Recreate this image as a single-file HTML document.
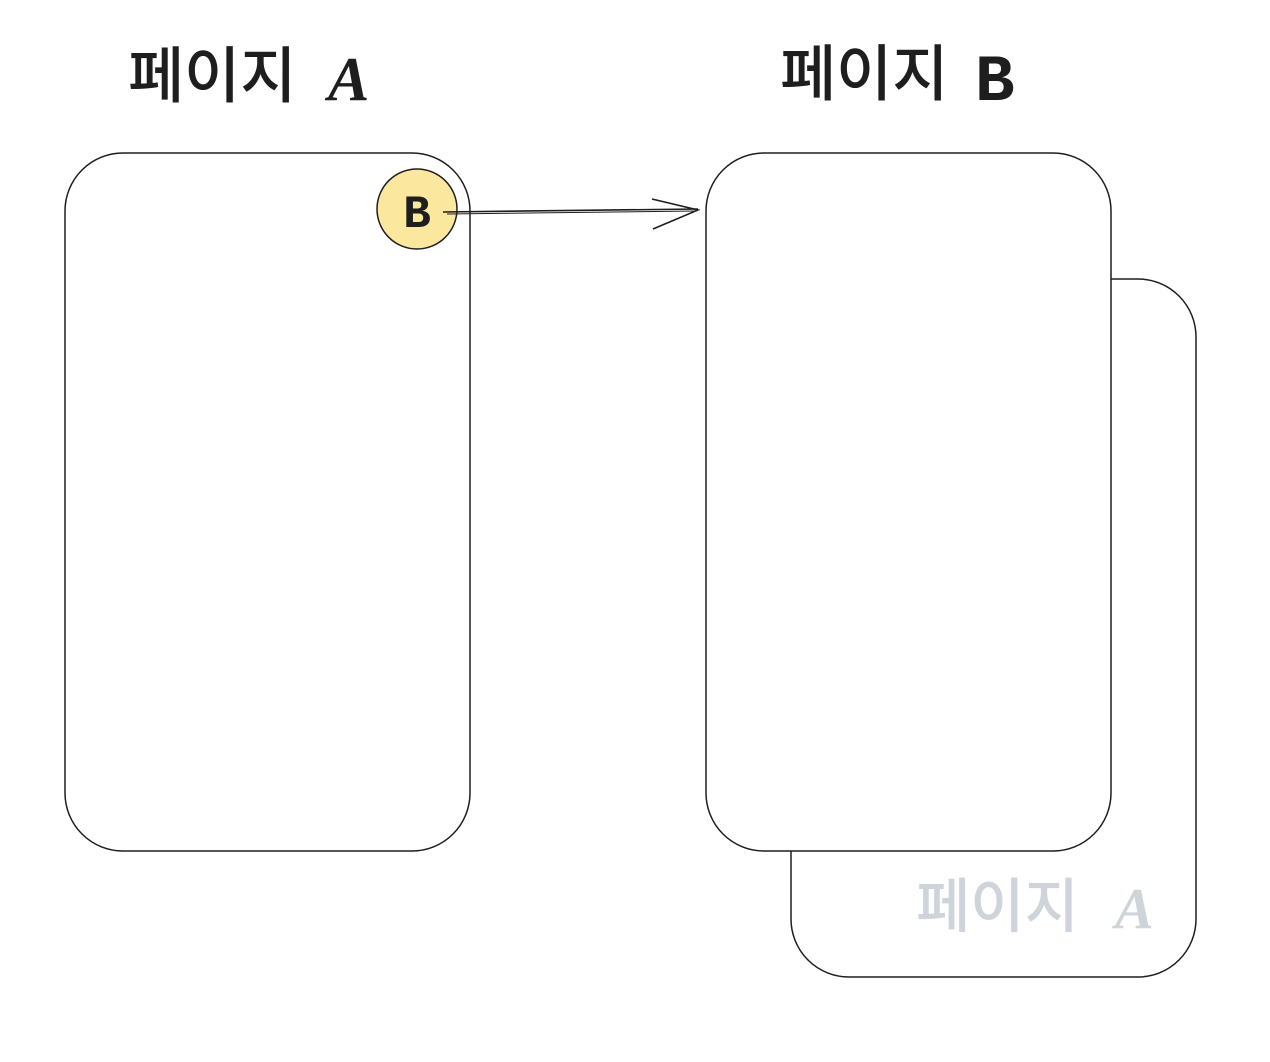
<!DOCTYPE html>
<html><head><meta charset="utf-8"><style>
html,body{margin:0;padding:0;background:#fff;}
svg{display:block}
</style></head><body>
<svg width="1270" height="1062" viewBox="0 0 1270 1062" xmlns="http://www.w3.org/2000/svg">
<rect x="0" y="0" width="1270" height="1062" fill="#fff"/>
<rect x="791" y="279" width="405" height="698" rx="58" fill="#fff" stroke="#1e1e1e" stroke-width="1.5"/>
<rect x="706" y="153" width="405" height="698" rx="58" fill="#fff" stroke="#1e1e1e" stroke-width="1.5"/>
<rect x="65" y="153" width="405" height="698" rx="58" fill="#fff" stroke="#1e1e1e" stroke-width="1.5"/>
<circle cx="417" cy="209" r="40" fill="#fbe89e" stroke="#1e1e1e" stroke-width="1.5"/>
<text x="417" y="227" text-anchor="middle" font-family="Liberation Mono, monospace" font-weight="bold" font-size="46" fill="#1e1e1e">B</text>
<path d="M443 212 L698 209" stroke="#1e1e1e" stroke-width="1.6" fill="none"/>
<path d="M447 214 L696 211" stroke="#1e1e1e" stroke-width="1" fill="none"/>
<path d="M652 199 L698 210 L653 229" stroke="#1e1e1e" stroke-width="1.6" fill="none"/>
<text x="128" y="97" font-family="Liberation Sans, Noto Sans CJK KR, sans-serif" font-size="61" font-weight="500" fill="#1e1e1e">페이지</text>
<text x="328" y="100" font-family="Liberation Serif, serif" font-style="italic" font-weight="bold" font-size="62" fill="#1e1e1e">A</text>
<text x="780" y="95" font-family="Liberation Sans, Noto Sans CJK KR, sans-serif" font-size="61" font-weight="500" fill="#1e1e1e">페이지</text>
<text x="975" y="100" font-family="Liberation Mono, monospace" font-weight="bold" font-size="66" fill="#1e1e1e">B</text>
<text x="916" y="927" font-family="Liberation Sans, Noto Sans CJK KR, sans-serif" font-size="59" font-weight="500" fill="#ced4da">페이지</text>
<text x="1115" y="928" font-family="Liberation Serif, serif" font-style="italic" font-weight="bold" font-size="58" fill="#ced4da">A</text>
</svg>
</body></html>
